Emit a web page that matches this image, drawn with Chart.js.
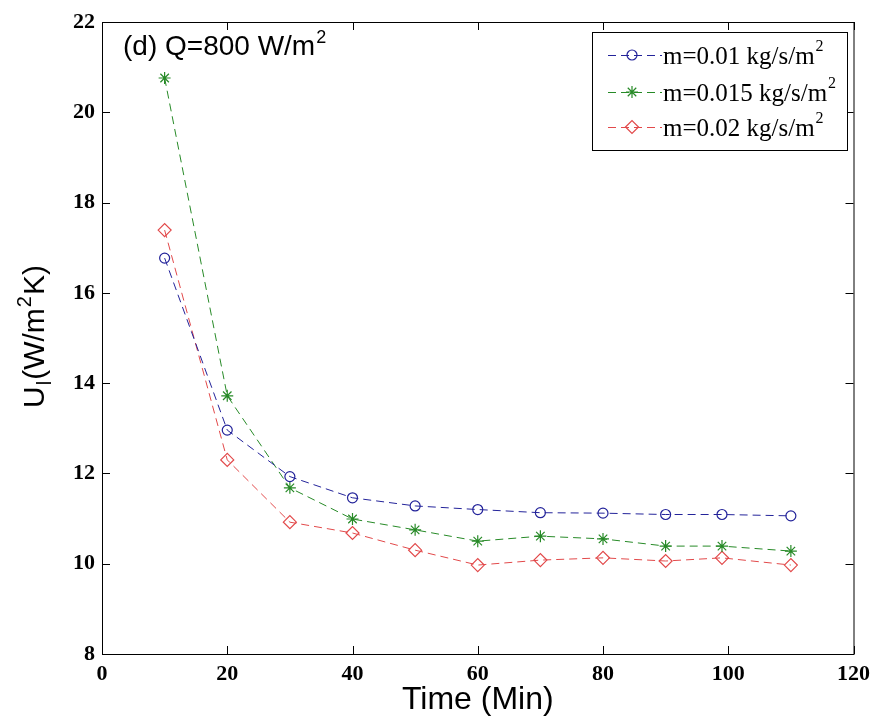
<!DOCTYPE html>
<html>
<head>
<meta charset="utf-8">
<script src="https://cdn.jsdelivr.net/npm/chart.js@4.4.0/dist/chart.umd.min.js"></script>
<style>
  html, body { margin: 0; padding: 0; background: #fff; }
  #wrap { width: 877px; height: 722px; }
</style>
</head>
<body>
<div id="wrap"><canvas id="uChart" width="877" height="722"></canvas></div>
<script>
// values
const times = [10, 20, 30, 40, 50, 60, 70, 80, 90, 99, 110];
const uM010 = [16.77, 12.96, 11.93, 11.46, 11.28, 11.20, 11.13, 11.12, 11.09, 11.09, 11.06];
const uM015 = [20.76, 13.72, 11.68, 10.99, 10.75, 10.50, 10.61, 10.55, 10.39, 10.39, 10.28];
const uM020 = [17.39, 12.30, 10.92, 10.68, 10.30, 9.97, 10.08, 10.13, 10.06, 10.13, 9.97];
const seriesNames = ['m=0.01 kg/s/m', 'm=0.015 kg/s/m', 'm=0.02 kg/s/m'];
const xTicks = [0, 20, 40, 60, 80, 100, 120];
const yTicks = [8, 10, 12, 14, 16, 18, 20, 22];

const colors = ['#23239a', '#278a27', '#e2494a'];
const styles = ['circle', 'star', 'rectRot'];
const radii = [5, 6, 6.5];

const sans = '"Liberation Sans", Arial, sans-serif';
const serif = '"Liberation Serif", "Times New Roman", serif';

function pts(ys) {
  return times.map((t, i) => ({ x: t, y: ys[i] }));
}

function makeSet(i, ys) {
  return {
    label: seriesNames[i],
    data: pts(ys),
    borderColor: colors[i],
    backgroundColor: 'rgba(0,0,0,0)',
    borderWidth: 1,
    borderDash: [8, 5],
    pointStyle: styles[i],
    pointRadius: radii[i],
    pointBorderColor: colors[i],
    pointBackgroundColor: 'rgba(0,0,0,0)',
    pointBorderWidth: 1.2,
    tension: 0,
  };
}

// text with a raised or lowered small part
function drawSup(ctx, x, y, base, small, size, family, shift) {
  ctx.font = size + 'px ' + family;
  ctx.fillText(base, x, y);
  const w = ctx.measureText(base).width;
  ctx.font = Math.round(size * 0.65) + 'px ' + family;
  ctx.fillText(small, x + w + 1, y + shift);
  return w + 1 + ctx.measureText(small).width;
}

const decor = {
  id: 'decor',
  afterDraw(chart) {
    const ctx = chart.ctx;
    const a = chart.chartArea;
    const xs = chart.scales.x;
    const ys = chart.scales.y;
    ctx.save();
    ctx.strokeStyle = '#000';
    ctx.lineWidth = 1;
    ctx.strokeRect(a.left + 0.5, a.top + 0.5, a.right - a.left, a.bottom - a.top);

    // inward ticks on all four sides
    ctx.beginPath();
    xTicks.forEach((v) => {
      const px = Math.round(xs.getPixelForValue(v)) + 0.5;
      ctx.moveTo(px, a.bottom); ctx.lineTo(px, a.bottom - 8);
      ctx.moveTo(px, a.top); ctx.lineTo(px, a.top + 8);
    });
    yTicks.forEach((v) => {
      const py = Math.round(ys.getPixelForValue(v)) + 0.5;
      ctx.moveTo(a.left, py); ctx.lineTo(a.left + 8, py);
      ctx.moveTo(a.right, py); ctx.lineTo(a.right - 8, py);
    });
    ctx.stroke();

    // panel label
    ctx.fillStyle = '#000';
    ctx.textBaseline = 'alphabetic';
    ctx.textAlign = 'left';
    drawSup(ctx, 123, 55, '(d) Q=800 W/m', '2', 28, sans, -12);

    // y axis title U_l(W/m^2K)
    ctx.save();
    ctx.translate(44, 336);
    ctx.rotate(-Math.PI / 2);
    const parts = [
      ['U', 30, 0], ['l', 20, 7], ['(W/m', 30, 0], ['2', 20, -13], ['K)', 30, 0],
    ];
    let total = 0;
    parts.forEach((p) => { ctx.font = p[1] + 'px ' + sans; total += ctx.measureText(p[0]).width + 1; });
    let cx = -total / 2;
    parts.forEach((p) => {
      ctx.font = p[1] + 'px ' + sans;
      ctx.fillText(p[0], cx, p[2]);
      cx += ctx.measureText(p[0]).width + 1;
    });
    ctx.restore();

    // legend
    const box = { x: 592, y: 32, w: 255, h: 118 };
    ctx.fillStyle = '#fff';
    ctx.fillRect(box.x, box.y, box.w, box.h);
    ctx.strokeRect(box.x + 0.5, box.y + 0.5, box.w, box.h);
    const rows = [55, 92, 127];
    chart.data.datasets.forEach((ds, i) => {
      const y = rows[i];
      ctx.strokeStyle = ds.borderColor;
      ctx.lineWidth = 1;
      ctx.setLineDash([8, 5]);
      ctx.beginPath();
      ctx.moveTo(608, y + 0.5); ctx.lineTo(662, y + 0.5);
      ctx.stroke();
      ctx.setLineDash([]);
      ctx.fillStyle = 'rgba(0,0,0,0)';
      ctx.lineWidth = 1.2;
      Chart.helpers.drawPoint(ctx, {
        pointStyle: ds.pointStyle, radius: ds.pointRadius, borderWidth: 1.2, rotation: 0,
      }, 632, y);
      ctx.fillStyle = '#000';
      ctx.textBaseline = 'middle';
      drawSup(ctx, 663, y + 2, ds.label, '2', 25, serif, -10);
    });
    ctx.restore();
  },
};

const ctx = document.getElementById('uChart').getContext('2d');
const chart = new Chart(ctx, {
  type: 'line',
  data: {
    datasets: [makeSet(0, uM010), makeSet(1, uM015), makeSet(2, uM020)],
  },
  options: {
    responsive: false,
    animation: false,
    devicePixelRatio: 1,
    layout: { padding: { top: 22, right: 22, left: 0, bottom: 0 } },
    plugins: {
      legend: { display: false },
      tooltip: { enabled: false },
    },
    scales: {
      x: {
        type: 'linear',
        min: 0,
        max: 120,
        afterBuildTicks: (s) => { s.ticks = xTicks.map((v) => ({ value: v })); },
        afterFit: (s) => { s.height = 68; },
        grid: { display: false, drawTicks: false },
        border: { display: false },
        ticks: {
          color: '#000',
          padding: 7,
          maxRotation: 0,
          font: { family: serif, size: 22, weight: 'bold' },
        },
        title: {
          display: true,
          text: 'Time (Min)',
          color: '#000',
          padding: { top: 0, bottom: 3 },
          font: { family: sans, size: 32 },
        },
      },
      y: {
        type: 'linear',
        min: 8,
        max: 22,
        afterBuildTicks: (s) => { s.ticks = yTicks.map((v) => ({ value: v })); },
        afterFit: (s) => { s.width = 102; },
        grid: { display: false, drawTicks: false },
        border: { display: false },
        ticks: {
          color: '#000',
          padding: 7,
          font: { family: serif, size: 22, weight: 'bold' },
        },
      },
    },
  },
  plugins: [decor],
});
</script>
</body>
</html>
